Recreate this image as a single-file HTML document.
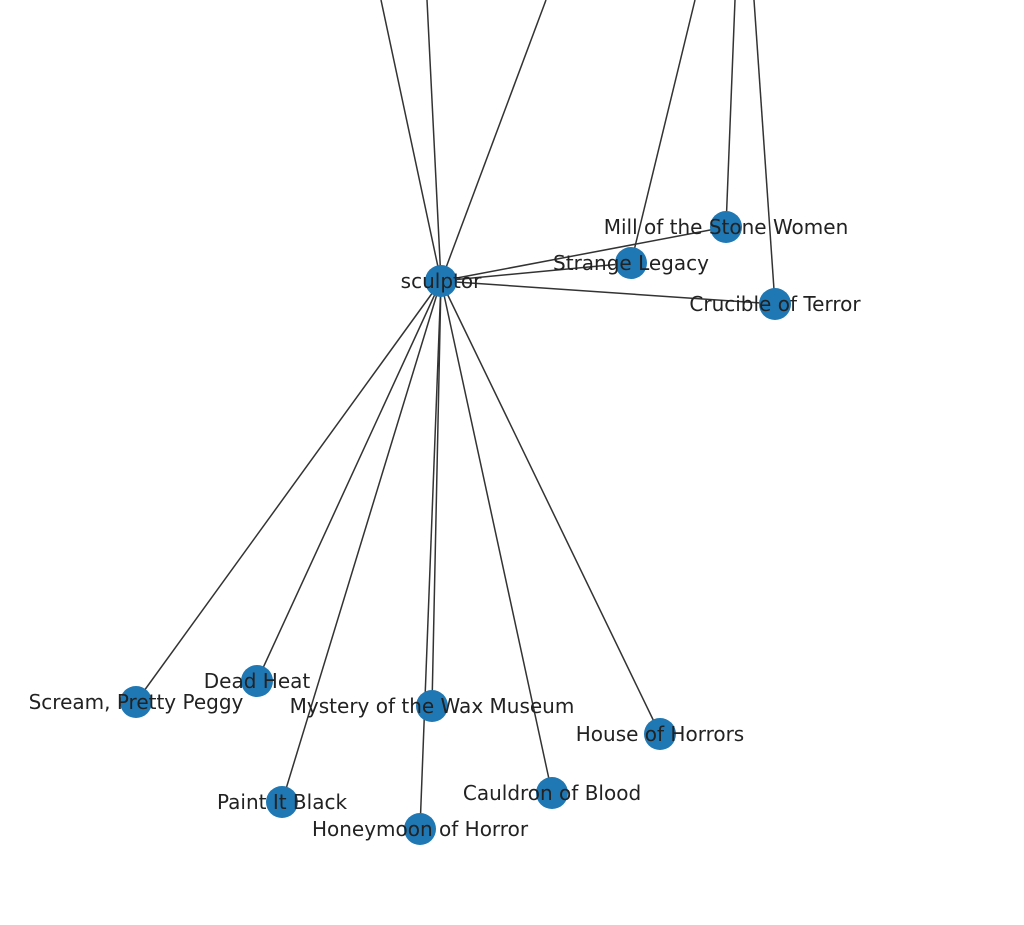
<!DOCTYPE html>
<html><head><meta charset="utf-8"><style>body{margin:0;background:#fff}svg{display:block}</style></head>
<body>
<svg width="1024" height="925" xmlns="http://www.w3.org/2000/svg">
<g stroke="#333" stroke-width="1.5" fill="none">
<line x1="441" y1="281" x2="381" y2="0"/>
<line x1="441" y1="281" x2="427" y2="0"/>
<line x1="441" y1="281" x2="546" y2="0"/>
<line x1="631" y1="263" x2="695" y2="0"/>
<line x1="726" y1="227" x2="735" y2="0"/>
<line x1="775" y1="304" x2="754" y2="0"/>
<line x1="441" y1="281" x2="726" y2="227"/>
<line x1="441" y1="281" x2="631" y2="263"/>
<line x1="441" y1="281" x2="775" y2="304"/>
<line x1="441" y1="281" x2="136" y2="702"/>
<line x1="441" y1="281" x2="257" y2="681"/>
<line x1="441" y1="281" x2="432" y2="706"/>
<line x1="441" y1="281" x2="660" y2="734"/>
<line x1="441" y1="281" x2="282" y2="802"/>
<line x1="441" y1="281" x2="420" y2="829"/>
<line x1="441" y1="281" x2="552" y2="793"/>
</g>
<g fill="#1f78b4">
<circle cx="441" cy="281" r="16"/><circle cx="726" cy="227" r="16"/><circle cx="631" cy="263" r="16"/>
<circle cx="775" cy="304" r="16"/><circle cx="136" cy="702" r="16"/><circle cx="257" cy="681" r="16"/>
<circle cx="432" cy="706" r="16"/><circle cx="660" cy="734" r="16"/><circle cx="282" cy="802" r="16"/>
<circle cx="420" cy="829" r="16"/><circle cx="552" cy="793" r="16"/>
</g>
<g font-family="DejaVu Sans, Liberation Sans, sans-serif" font-size="20" fill="#222" text-anchor="middle" dominant-baseline="central">
<text x="441" y="281">sculptor</text>
<text x="726" y="227">Mill of the Stone Women</text>
<text x="631" y="263">Strange Legacy</text>
<text x="775" y="304">Crucible of Terror</text>
<text x="136" y="702">Scream, Pretty Peggy</text>
<text x="257" y="681">Dead Heat</text>
<text x="432" y="706">Mystery of the Wax Museum</text>
<text x="660" y="734">House of Horrors</text>
<text x="282" y="802">Paint It Black</text>
<text x="420" y="829">Honeymoon of Horror</text>
<text x="552" y="793">Cauldron of Blood</text>
</g>
</svg>
</body></html>
